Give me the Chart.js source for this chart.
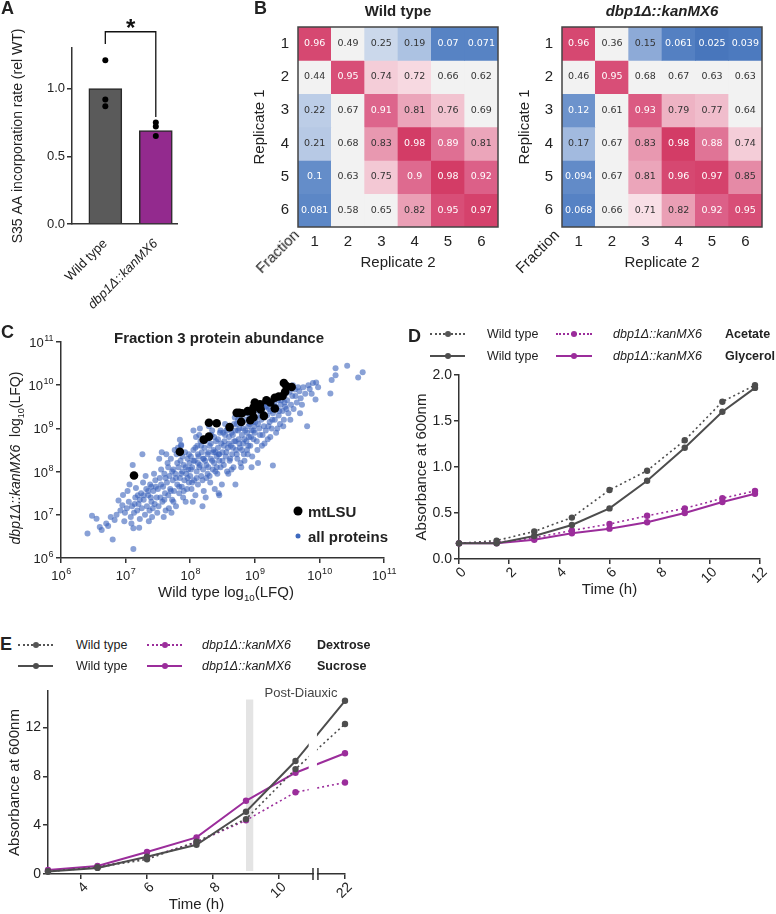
<!DOCTYPE html>
<html>
<head>
<meta charset="utf-8">
<title>dbp1 figure</title>
<script src="https://cdn.jsdelivr.net/npm/chart.js@4.4.1/dist/chart.umd.min.js"></script>
<style>
  body { margin: 0; background: #fff; }
  #page { position: relative; width: 776px; height: 914px; overflow: hidden; background: #fff;
          font-family: "Liberation Sans", Arial, sans-serif; color: #222; }
  #page canvas { position: absolute; }
  .t { position: absolute; white-space: nowrap; line-height: 1; }
  .mid { transform: translate(0, -50%); }
  .ctr { transform: translate(-50%, -50%); }
  .rot { transform: translate(-50%, -50%) rotate(-90deg); }
  .rot45 { transform: translate(-50%, -50%) rotate(-45deg); }
  .letter { font-weight: bold; font-size: 18px; }
  .lg { font-size: 12.5px; }
  .samp { position: absolute; height: 0; border-top-width: 2px; }
  .samp i { position: absolute; left: 50%; top: -1px; width: 6px; height: 6px; border-radius: 50%;
            transform: translate(-50%, -50%); }
  .dot { position: absolute; border-radius: 50%; transform: translate(-50%, -50%); }
  sub { font-size: 65%; line-height: 0; }
</style>
</head>
<body>
<div id="page">
  <canvas id="chartA" width="200" height="320" style="left:0;top:0"></canvas>
  <canvas id="chartB1" width="270" height="290" style="left:240px;top:0"></canvas>
  <canvas id="chartB2" width="272" height="290" style="left:504px;top:0"></canvas>
  <canvas id="chartC" width="400" height="300" style="left:0;top:320px"></canvas>
  <canvas id="chartD" width="380" height="254" style="left:396px;top:360px"></canvas>
  <canvas id="chartE" width="360" height="234" style="left:0;top:680px"></canvas>

  <div class="t letter" style="left:1px;top:-1px">A</div>
  <div class="t letter" style="left:254px;top:-1px">B</div>
  <div class="t letter" style="left:1px;top:323px">C</div>
  <div class="t letter" style="left:408px;top:327px">D</div>
  <div class="t letter" style="left:0;top:635px">E</div>

  <div class="t rot45" style="left:277px;top:251px;font-size:15px">Fraction</div>
  <div class="t rot45" style="left:537px;top:251px;font-size:15px">Fraction</div>

  <div class="t ctr" style="left:219px;top:337px;font-size:15px;font-weight:bold">Fraction 3 protein abundance</div>
  <div class="t rot" style="left:15px;top:458px;font-size:14px"><i>dbp1Δ::kanMX6</i>&nbsp; log<sub>10</sub>(LFQ)</div>
  <div class="t ctr" style="left:226px;top:591px;font-size:15px">Wild type log<sub>10</sub>(LFQ)</div>
  <div class="dot" style="left:298px;top:511px;width:9px;height:9px;background:#000"></div>
  <div class="t mid" style="left:308px;top:511px;font-size:15px;font-weight:bold">mtLSU</div>
  <div class="dot" style="left:298px;top:536px;width:5px;height:5px;background:#3e69be"></div>
  <div class="t mid" style="left:308px;top:536px;font-size:15px;font-weight:bold">all proteins</div>

  <div class="samp" style="left:430px;top:333px;width:35px;border-top-style:dotted;border-color:#555"><i style="background:#555"></i></div>
  <div class="t mid lg" style="left:487px;top:334px">Wild type</div>
  <div class="samp" style="left:556px;top:333px;width:36px;border-top-style:dotted;border-color:#9b2d9b"><i style="background:#9b2d9b"></i></div>
  <div class="t mid lg" style="left:613px;top:334px;font-style:italic">dbp1Δ::kanMX6</div>
  <div class="t mid lg" style="left:725px;top:334px;font-weight:bold">Acetate</div>
  <div class="samp" style="left:430px;top:355px;width:35px;border-top-style:solid;border-color:#4d4d4d"><i style="background:#4d4d4d"></i></div>
  <div class="t mid lg" style="left:487px;top:356px">Wild type</div>
  <div class="samp" style="left:556px;top:355px;width:36px;border-top-style:solid;border-color:#9b2d9b"><i style="background:#9b2d9b"></i></div>
  <div class="t mid lg" style="left:613px;top:356px;font-style:italic">dbp1Δ::kanMX6</div>
  <div class="t mid lg" style="left:725px;top:356px;font-weight:bold">Glycerol</div>

  <div class="samp" style="left:18px;top:644px;width:35px;border-top-style:dotted;border-color:#555"><i style="background:#555"></i></div>
  <div class="t mid lg" style="left:76px;top:645px">Wild type</div>
  <div class="samp" style="left:147px;top:644px;width:35px;border-top-style:dotted;border-color:#9b2d9b"><i style="background:#9b2d9b"></i></div>
  <div class="t mid lg" style="left:202px;top:645px;font-style:italic">dbp1Δ::kanMX6</div>
  <div class="t mid lg" style="left:317px;top:645px;font-weight:bold">Dextrose</div>
  <div class="samp" style="left:18px;top:665px;width:35px;border-top-style:solid;border-color:#4d4d4d"><i style="background:#4d4d4d"></i></div>
  <div class="t mid lg" style="left:76px;top:666px">Wild type</div>
  <div class="samp" style="left:147px;top:665px;width:35px;border-top-style:solid;border-color:#9b2d9b"><i style="background:#9b2d9b"></i></div>
  <div class="t mid lg" style="left:202px;top:666px;font-style:italic">dbp1Δ::kanMX6</div>
  <div class="t mid lg" style="left:317px;top:666px;font-weight:bold">Sucrose</div>
  <div class="t ctr" style="left:301px;top:692px;font-size:13px;color:#444">Post-Diauxic</div>
</div>

<script>
// ---- panel A: S35 incorporation ----
var aGroups = ['Wild type', 'dbp1Δ::kanMX6'];
var aMeans = [1.0, 0.69];
var aWtReps = [1.21, 0.92, 0.87];
var aMutReps = [0.75, 0.72, 0.65];
var aYTicks = [0, 0.5, 1.0];
var aSig = { top: 1.42, left: 1.33, right: 0.79, star: 1.39 };

// ---- panel B: correlation between replicates ----
var bFractions = ['1', '2', '3', '4', '5', '6'];
var wtCorr = [
  [0.96, 0.49, 0.25, 0.19, 0.07, 0.071],
  [0.44, 0.95, 0.74, 0.72, 0.66, 0.62],
  [0.22, 0.67, 0.91, 0.81, 0.76, 0.69],
  [0.21, 0.68, 0.83, 0.98, 0.89, 0.81],
  [0.1, 0.63, 0.75, 0.9, 0.98, 0.92],
  [0.081, 0.58, 0.65, 0.82, 0.95, 0.97]
];
var mutCorr = [
  [0.96, 0.36, 0.15, 0.061, 0.025, 0.039],
  [0.46, 0.95, 0.68, 0.67, 0.63, 0.63],
  [0.12, 0.61, 0.93, 0.79, 0.77, 0.64],
  [0.17, 0.67, 0.83, 0.98, 0.88, 0.74],
  [0.094, 0.67, 0.81, 0.96, 0.97, 0.85],
  [0.068, 0.66, 0.71, 0.82, 0.92, 0.95]
];

// ---- panel C: log10 LFQ, [wild type, dbp1] ----
var cDecades = [6, 7, 8, 9, 10, 11];
var cMtLSU = [[7.13,7.91],[7.84,8.46],[8.21,8.74],[8.29,8.81],[8.29,9.13],[8.41,9.12],[8.61,9.03],[8.72,9.36],
  [8.76,9.36],[8.79,9.15],[8.80,9.35],[8.89,9.40],[8.93,9.19],[8.96,9.38],[8.98,9.48],[8.98,9.26],[9.00,9.60],
  [9.02,9.51],[9.08,9.56],[9.09,9.44],[9.14,9.29],[9.18,9.65],[9.24,9.60],[9.31,9.71],[9.31,9.46],[9.37,9.74],
  [9.43,9.75],[9.45,10.05],[9.47,9.85],[9.49,9.98],[9.57,9.96]];
var cAllProteins = [
  [6.48,6.98],[6.55,6.91],[6.41,6.57],[6.63,6.65],[6.80,6.43],[6.73,6.74],[6.83,6.88],[6.70,6.80],[6.60,6.72],
  [6.89,7.33],[6.96,7.46],[6.92,7.10],[6.98,6.85],[6.86,7.00],[6.95,7.22],[6.77,6.95],[6.99,7.05],
  [7.12,6.21],[7.12,6.69],[7.11,8.15],[7.26,8.40],[7.02,7.15],[7.05,7.30],[7.08,6.95],[7.10,7.20],[7.13,7.05],
  [7.15,7.40],[7.18,7.10],[7.20,7.25],[7.22,6.90],[7.24,7.50],[7.25,7.15],[7.28,7.35],[7.30,7.00],[7.32,7.60],
  [7.33,7.20],[7.35,7.45],[7.37,7.10],[7.38,7.70],[7.40,7.30],[7.41,6.95],[7.43,7.55],[7.45,7.25],[7.46,7.80],
  [7.48,7.40],[7.49,7.05],[7.03,7.55],[7.16,7.62],[7.27,7.75],[7.09,6.80],[7.21,6.70],[7.36,6.85],[7.44,7.95],
  [7.31,7.90],[7.19,7.45],[7.06,7.70],[7.40,7.65],
  [7.50,7.60],[7.51,7.20],[7.53,7.85],[7.54,7.40],[7.55,8.05],[7.57,7.30],[7.58,7.65],[7.60,7.95],[7.61,7.50],
  [7.62,7.10],[7.64,7.75],[7.65,8.20],[7.66,7.45],[7.68,7.90],[7.69,7.60],[7.70,8.30],[7.72,7.35],[7.73,7.80],
  [7.74,8.05],[7.75,7.55],[7.77,7.95],[7.78,7.20],[7.79,8.40],[7.80,7.70],[7.82,8.10],[7.83,7.50],[7.84,7.85],
  [7.85,8.25],[7.87,7.65],[7.88,8.00],[7.89,7.40],[7.90,8.15],[7.91,7.80],[7.92,8.45],[7.94,7.95],[7.95,7.60],
  [7.96,8.30],[7.97,8.05],[7.98,7.75],[7.99,8.20],[7.56,8.45],[7.63,8.40],[7.71,7.05],[7.81,8.55],[7.93,7.30],
  [7.86,8.60],[7.59,6.95],[7.76,8.50],[7.52,8.30],[7.67,7.15],
  [8.00,7.90],[8.01,8.35],[8.02,7.60],[8.03,8.10],[8.05,8.50],[8.06,7.80],[8.07,8.25],[8.08,7.45],[8.10,8.00],
  [8.11,8.60],[8.12,7.70],[8.13,8.35],[8.15,8.15],[8.16,8.70],[8.17,7.90],[8.18,8.45],[8.20,8.05],[8.21,7.55],
  [8.22,8.55],[8.23,8.25],[8.25,7.85],[8.26,8.75],[8.27,8.40],[8.28,8.10],[8.30,8.60],[8.31,7.75],[8.32,8.30],
  [8.33,8.85],[8.35,8.05],[8.36,8.50],[8.37,8.20],[8.38,7.60],[8.40,8.70],[8.41,8.35],[8.42,7.95],[8.43,8.55],
  [8.45,8.25],[8.46,8.90],[8.47,8.10],[8.48,8.65],[8.49,7.70],[8.04,7.30],[8.14,8.85],[8.24,7.40],[8.34,8.95],
  [8.44,7.50],[8.09,8.80],[8.19,7.20],[8.29,9.05],[8.39,8.00],[8.12,8.20],[8.27,7.95],[8.36,8.45],[8.20,8.30],
  [8.44,8.40],
  [8.50,8.45],[8.51,8.90],[8.52,8.15],[8.53,8.70],[8.55,8.35],[8.56,8.95],[8.57,8.00],[8.58,8.55],[8.60,8.80],
  [8.61,8.25],[8.62,9.00],[8.63,8.60],[8.65,8.40],[8.66,8.85],[8.67,8.10],[8.68,8.70],[8.70,8.95],[8.71,8.50],
  [8.72,9.10],[8.73,8.30],[8.75,8.75],[8.76,9.00],[8.77,8.55],[8.78,8.20],[8.80,8.85],[8.81,9.15],[8.82,8.65],
  [8.83,8.40],[8.85,8.95],[8.86,9.20],[8.87,8.70],[8.88,8.50],[8.90,9.05],[8.91,8.80],[8.92,9.25],[8.93,8.60],
  [8.95,8.95],[8.96,8.35],[8.97,9.15],[8.98,8.75],[8.54,9.10],[8.64,8.05],[8.74,9.20],[8.84,8.25],[8.94,9.35],
  [8.59,7.95],[8.69,9.25],[8.79,8.10],[8.89,8.40],[8.99,9.05],
  [9.00,8.90],[9.02,9.25],[9.03,8.70],[9.05,9.10],[9.06,9.40],[9.08,8.85],[9.10,9.20],[9.11,8.60],[9.13,9.35],
  [9.14,9.05],[9.16,9.50],[9.17,8.95],[9.19,9.30],[9.20,8.75],[9.22,9.45],[9.23,9.15],[9.25,9.60],[9.26,9.00],
  [9.28,9.35],[9.28,8.14],[9.30,9.55],[9.31,9.20],[9.33,8.90],[9.34,9.45],[9.36,9.65],[9.37,9.30],[9.39,9.10],
  [9.40,9.55],[9.42,9.75],[9.43,9.40],[9.45,9.20],[9.46,9.60],[9.48,9.80],[9.49,9.45],[9.04,8.50],[9.15,8.65],
  [9.24,8.80],[9.35,9.00],[9.44,9.05],[9.12,9.55],
  [9.50,9.65],[9.52,9.35],[9.54,9.85],[9.56,9.55],[9.58,9.75],[9.60,9.45],[9.62,9.90],[9.63,9.75],[9.65,9.60],
  [9.67,9.95],[9.69,9.86],[9.71,9.70],[9.73,9.55],[9.75,9.95],[9.78,9.80],[9.81,9.05],[9.83,10.00],[9.85,9.91],
  [9.88,9.80],[9.90,10.05],[9.94,9.67],[9.95,10.06],[9.98,9.95],[10.17,9.81],[10.19,10.12],[10.25,10.39],
  [10.25,10.23],[10.43,10.45],[10.60,10.18],[10.67,10.30],[9.55,9.20],[9.70,9.35],[9.59,10.00],
  [7.55,7.70],[7.60,7.35],[7.62,7.85],[7.66,8.10],[7.70,7.55],[7.72,8.00],[7.74,7.30],[7.78,7.85],[7.80,8.20],
  [7.83,7.65],[7.86,7.95],[7.88,8.35],[7.90,7.55],[7.93,8.10],[7.96,7.85],[7.98,8.40],[8.01,8.05],[8.03,7.75],
  [8.05,8.25],[8.08,8.55],[8.10,7.85],[8.12,8.40],[8.14,8.10],[8.17,8.60],[8.19,7.80],[8.21,8.30],[8.23,8.70],
  [8.25,8.15],[8.28,8.45],[8.30,7.90],[8.32,8.65],[8.34,8.25],[8.37,8.80],[8.39,8.45],[8.41,8.10],[8.43,8.75],
  [8.45,8.40],[8.47,8.95],[8.50,8.25],[8.52,8.60],[8.54,8.85],[8.56,8.45],[8.58,9.00],[8.60,8.65],[8.62,8.30],
  [8.64,8.90],[8.66,8.55],[8.68,9.10],[8.70,8.70],[8.72,8.40],[8.74,8.95],[8.76,8.65],[8.78,9.20],[8.80,8.50],
  [8.82,9.00],[8.84,8.75],[8.86,9.35],[8.88,8.90],[8.90,8.60],[8.92,9.10],[8.94,8.80],[8.96,9.30],[8.98,8.95],
  [9.01,9.15],[9.03,9.45],[9.07,9.00],[9.09,9.30],[9.12,8.85],[9.15,9.25],[9.18,9.50],[9.21,9.05],[9.24,9.40],
  [9.27,9.20],[9.32,9.50],[9.38,9.40],[9.41,9.65],[9.47,9.50],[7.35,7.55],[7.42,7.15],[7.47,7.65],[7.28,7.45],
  [7.22,7.35],[7.14,7.25],[7.39,7.40],[7.84,8.74],[7.86,8.62],[8.05,8.95],[8.15,9.00],[8.70,7.70],[8.45,7.45],
  [9.05,8.20],[8.95,8.10]
];

// ---- panel D: growth in acetate / glycerol ----
var dTime = [0, 1.5, 3, 4.5, 6, 7.5, 9, 10.5, 11.8];
var dWtAcetate = [0.17, 0.20, 0.30, 0.45, 0.75, 0.96, 1.29, 1.71, 1.89];
var dWtGlycerol = [0.17, 0.17, 0.25, 0.37, 0.55, 0.85, 1.21, 1.60, 1.86];
var dMutAcetate = [0.17, 0.18, 0.23, 0.31, 0.38, 0.47, 0.55, 0.66, 0.74];
var dMutGlycerol = [0.17, 0.17, 0.21, 0.28, 0.33, 0.40, 0.50, 0.62, 0.71];

// ---- panel E: growth in dextrose / sucrose ----
var eTime = [3, 4.5, 6, 7.5, 9, 10.5, 22];
var eWtDextrose = [0.2, 0.55, 1.2, 2.65, 4.5, 8.6, 12.3];
var eWtSucrose = [0.2, 0.5, 1.42, 2.4, 5.1, 9.26, 14.2];
var eMutDextrose = [0.25, 0.6, 1.35, 2.6, 4.4, 6.7, 7.5];
var eMutSucrose = [0.33, 0.66, 1.8, 3.0, 6.0, 8.3, 9.9];
var eXTicks = [4, 6, 8, 10, 22];
var eYTicks = [0, 4, 8, 12];
var eDiauxic = [9.0, 9.22];

var GRAY = '#4d4d4d', PURPLE = '#9b2d9b', FONT = '"Liberation Sans", Arial, sans-serif';
Chart.defaults.font.family = FONT;
Chart.defaults.color = '#222';
Chart.defaults.animation = false;
Chart.defaults.plugins.legend.display = false;
Chart.defaults.plugins.tooltip.enabled = false;

function fixW(w) { return function (s) { s.width = w; s.paddingTop = 0; s.paddingBottom = 0; }; }
function fixH(h) { return function (s) { s.height = h; s.paddingLeft = 0; s.paddingRight = 0; }; }
function setTicks(vals) { return function (s) { s.ticks = vals.map(function (v) { return { value: v }; }); }; }
var border = { display: true, color: '#333', width: 1.5 };
var tickGrid = { drawOnChartArea: false, color: '#333', tickLength: 5, lineWidth: 1.5 };

// ---------- A ----------
var aBracket = {
  id: 'aBracket',
  afterDraw: function (chart) {
    var x = chart.scales.x, y = chart.scales.y, c = chart.ctx;
    var x1 = x.getPixelForValue(1), x2 = x.getPixelForValue(2), top = y.getPixelForValue(aSig.top);
    c.save();
    c.strokeStyle = '#111'; c.lineWidth = 1.3;
    c.beginPath();
    c.moveTo(x1, y.getPixelForValue(aSig.left)); c.lineTo(x1, top);
    c.lineTo(x2, top); c.lineTo(x2, y.getPixelForValue(aSig.right));
    c.stroke();
    c.fillStyle = '#111'; c.font = 'bold 24px ' + FONT; c.textAlign = 'center';
    c.fillText('*', (x1 + x2) / 2, y.getPixelForValue(aSig.star));
    c.restore();
  }
};
new Chart(document.getElementById('chartA'), {
  type: 'bar',
  data: {
    datasets: [
      { type: 'scatter', order: 0, backgroundColor: '#000', borderWidth: 0, pointRadius: 3,
        data: aWtReps.map(function (v) { return { x: 1, y: v }; })
          .concat(aMutReps.map(function (v) { return { x: 2, y: v }; })) },
      { order: 1, backgroundColor: ['#5a5a5a', '#932a8e'], borderColor: '#2a2a2a', borderWidth: 1.5,
        barThickness: 33, data: aMeans.map(function (v, i) { return { x: i + 1, y: v }; }) }
    ]
  },
  options: {
    responsive: false, devicePixelRatio: 1,
    layout: { padding: { top: 48, right: 23, bottom: 0, left: 0 } },
    scales: {
      x: { type: 'linear', min: 0.34, max: 2.42, offset: false, afterFit: fixH(96),
           afterBuildTicks: setTicks([1, 2]),
           grid: { display: false }, border: border,
           ticks: { autoSkip: false, minRotation: 45, maxRotation: 45, padding: 4, color: '#222',
                    callback: function (v) { return aGroups[v - 1]; },
                    font: function (ctx) { return { family: FONT, size: 13, style: ctx.index === 1 ? 'italic' : 'normal' }; } } },
      y: { min: 0, max: 1.3, afterFit: fixW(72), afterBuildTicks: setTicks(aYTicks),
           grid: tickGrid, border: border,
           ticks: { padding: 2, font: { size: 13 }, callback: function (v) { return v.toFixed(1); } },
           title: { display: true, text: 'S35 AA incorporation rate (rel WT)', font: { size: 14 }, padding: { top: 10 } } }
    }
  },
  plugins: [aBracket]
});

// ---------- B ----------
var heatStops = [
  [0.00, [63, 111, 184]], [0.07, [87, 131, 196]], [0.12, [109, 147, 204]], [0.17, [162, 186, 223]],
  [0.25, [203, 216, 235]], [0.33, [242, 242, 242]], [0.69, [242, 242, 242]], [0.71, [248, 223, 230]],
  [0.74, [244, 205, 216]], [0.79, [238, 179, 196]], [0.83, [232, 152, 176]], [0.88, [224, 116, 150]],
  [0.92, [220, 96, 136]], [0.98, [211, 60, 102]], [1.00, [209, 56, 99]]
];
function heatColor(v) {
  for (var i = 1; i < heatStops.length; i++) {
    if (v <= heatStops[i][0]) {
      var a = heatStops[i - 1], b = heatStops[i], f = (v - a[0]) / (b[0] - a[0]);
      var c = a[1].map(function (ch, k) { return Math.round(ch + (b[1][k] - ch) * f); });
      return 'rgb(' + c.join(',') + ')';
    }
  }
  return 'rgb(209,56,99)';
}
var cellText = {
  id: 'cellText',
  afterDatasetsDraw: function (chart) {
    var c = chart.ctx, a = chart.chartArea;
    c.save();
    c.font = '9.5px "DejaVu Sans", sans-serif'; c.textAlign = 'center'; c.textBaseline = 'middle';
    chart.data.datasets.forEach(function (ds, di) {
      chart.getDatasetMeta(di).data.forEach(function (bar, ci) {
        var v = ds.values[ci];
        c.fillStyle = (v < 0.13 || v > 0.86) ? '#fff' : '#333';
        c.fillText(String(v), bar.x, (bar.y + bar.base) / 2);
      });
    });
    c.strokeStyle = '#444'; c.lineWidth = 1.5;
    c.strokeRect(a.left, a.top, a.right - a.left, a.bottom - a.top);
    c.restore();
  }
};
function heatmap(id, rows, title, italic, padRight, yTitlePad) {
  new Chart(document.getElementById(id), {
    type: 'bar',
    data: {
      labels: bFractions,
      datasets: rows.map(function (row, r) {
        return { data: row.map(function () { return [r + 0.5, r + 1.5]; }), values: row,
                 backgroundColor: row.map(heatColor), borderWidth: 0, grouped: false,
                 barPercentage: 1, categoryPercentage: 1 };
      })
    },
    options: {
      responsive: false, devicePixelRatio: 1,
      layout: { padding: { top: 0, right: padRight, bottom: 0, left: 0 } },
      plugins: { title: { display: true, text: title, fullSize: false, padding: { top: 3, bottom: 6 },
                          color: '#222', font: { size: 15, weight: 'bold', style: italic ? 'italic' : 'normal' } } },
      scales: {
        x: { afterFit: fixH(63), grid: { display: false, drawTicks: false }, border: { display: false },
             ticks: { padding: 6, font: { size: 15 } },
             title: { display: true, text: 'Replicate 2', font: { size: 15 }, padding: { bottom: 18 } } },
        y: { type: 'linear', min: 0.5, max: 6.5, reverse: true, afterFit: fixW(58),
             afterBuildTicks: setTicks([1, 2, 3, 4, 5, 6]),
             grid: { display: false, drawTicks: false }, border: { display: false },
             ticks: { padding: 9, font: { size: 15 } },
             title: { display: true, text: 'Replicate 1', font: { size: 15 }, padding: { top: yTitlePad } } }
      }
    },
    plugins: [cellText]
  });
}
heatmap('chartB1', wtCorr, 'Wild type', false, 12, 11);
heatmap('chartB2', mutCorr, 'dbp1Δ::kanMX6', true, 14, 12);

// ---------- C ----------
// decade tick labels drawn as 10 with a raised exponent, at the scales' own tick positions
function drawPow(c, d, x, baseY, align) {
  c.font = '13px ' + FONT; var w1 = c.measureText('10').width;
  c.font = '9px ' + FONT; var w2 = c.measureText(String(d)).width;
  var left = align === 'center' ? x - (w1 + w2) / 2 : x - (w1 + w2);
  c.textAlign = 'left'; c.textBaseline = 'alphabetic';
  c.font = '13px ' + FONT; c.fillText('10', left, baseY);
  c.font = '9px ' + FONT; c.fillText(String(d), left + w1 + 0.5, baseY - 6);
}
var powTicks = {
  id: 'powTicks',
  afterDraw: function (chart) {
    var c = chart.ctx, xs = chart.scales.x, ys = chart.scales.y;
    c.save(); c.fillStyle = '#222';
    cDecades.forEach(function (d) {
      drawPow(c, d, xs.getPixelForValue(d), xs.top + 22, 'center');
      drawPow(c, d, ys.right - 8, ys.getPixelForValue(d) + 5, 'right');
    });
    c.restore();
  }
};
function toXY(p) { return { x: p[0], y: p[1] }; }
new Chart(document.getElementById('chartC'), {
  type: 'scatter',
  data: {
    datasets: [
      { data: cMtLSU.map(toXY), backgroundColor: '#000', borderWidth: 0, pointRadius: 4.3 },
      { data: cAllProteins.map(toXY), backgroundColor: 'rgba(58,98,186,0.6)', borderWidth: 0, pointRadius: 3 }
    ]
  },
  options: {
    responsive: false, devicePixelRatio: 1,
    layout: { padding: { top: 22, right: 16, bottom: 0, left: 0 } },
    scales: {
      x: { min: 6, max: 11, afterFit: fixH(62), afterBuildTicks: setTicks(cDecades),
           grid: tickGrid, border: border, ticks: { display: false } },
      y: { min: 6, max: 11, afterFit: fixW(61), afterBuildTicks: setTicks(cDecades),
           grid: tickGrid, border: border, ticks: { display: false } }
    }
  },
  plugins: [powTicks]
});

// ---------- D ----------
function series(xs, ys, color, dotted) {
  return { data: xs.map(function (x, i) { return { x: x, y: ys[i] }; }), borderColor: color,
           backgroundColor: color, pointBackgroundColor: color, pointBorderWidth: 0, pointRadius: 3.2,
           borderWidth: dotted ? 1.6 : 2, borderDash: dotted ? [2, 3] : [], tension: 0, clip: false };
}
new Chart(document.getElementById('chartD'), {
  type: 'line',
  data: {
    datasets: [
      series(dTime, dWtAcetate, GRAY, true),
      series(dTime, dWtGlycerol, GRAY, false),
      series(dTime, dMutAcetate, PURPLE, true),
      series(dTime, dMutGlycerol, PURPLE, false)
    ]
  },
  options: {
    responsive: false, devicePixelRatio: 1,
    layout: { padding: { top: 15, right: 16, bottom: 0, left: 0 } },
    scales: {
      x: { type: 'linear', min: 0, max: 12, afterFit: fixH(55), grid: tickGrid, border: border,
           ticks: { stepSize: 2, minRotation: 45, maxRotation: 45, padding: 0, labelOffset: 5, font: { size: 14 } },
           title: { display: true, text: 'Time (h)', font: { size: 15 }, padding: { bottom: 15 } } },
      y: { min: 0, max: 2, afterFit: fixW(63), grid: tickGrid, border: border,
           ticks: { stepSize: 0.5, padding: 2, font: { size: 14 }, callback: function (v) { return v.toFixed(1); } },
           title: { display: true, text: 'Absorbance at 600nm', font: { size: 15 }, padding: { top: 17 } } }
    }
  }
});

// ---------- E ----------
// broken time axis: hours after 11 are compressed so 22 h sits one unit right of 11
function brk(t) { return t <= 11 ? t : t - 10; }
function unbrk(v) { return v <= 11 ? v : v + 10; }
var eMarks = {
  id: 'eMarks',
  beforeDatasetsDraw: function (chart) {
    var x = chart.scales.x, y = chart.scales.y, c = chart.ctx;
    var l = x.getPixelForValue(eDiauxic[0]), r = x.getPixelForValue(eDiauxic[1]);
    var t = y.getPixelForValue(14.3), b = y.getPixelForValue(0.25);
    c.save(); c.fillStyle = '#e4e4e4'; c.fillRect(l, t, r - l, b - t); c.restore();
  },
  afterDatasetsDraw: function (chart) {
    var x = chart.scales.x, a = chart.chartArea, c = chart.ctx;
    var l = x.getPixelForValue(10.9), r = x.getPixelForValue(11.15);
    c.save(); c.fillStyle = '#fff'; c.fillRect(l, a.top, r - l, a.bottom - a.top - 3); c.restore();
  },
  afterDraw: function (chart) {
    var x = chart.scales.x, c = chart.ctx, yb = chart.chartArea.bottom;
    var l = x.getPixelForValue(11.03), r = x.getPixelForValue(11.18);
    c.save();
    c.fillStyle = '#fff'; c.fillRect(l + 1, yb - 2, r - l - 2, 4);
    c.strokeStyle = '#333'; c.lineWidth = 1.5;
    c.beginPath(); c.moveTo(l, yb - 6); c.lineTo(l, yb + 6); c.moveTo(r, yb - 6); c.lineTo(r, yb + 6); c.stroke();
    c.restore();
  }
};
var eX = eTime.map(brk);
new Chart(document.getElementById('chartE'), {
  type: 'line',
  data: {
    datasets: [
      series(eX, eWtDextrose, GRAY, true),
      series(eX, eWtSucrose, GRAY, false),
      series(eX, eMutDextrose, PURPLE, true),
      series(eX, eMutSucrose, PURPLE, false)
    ]
  },
  options: {
    responsive: false, devicePixelRatio: 1,
    layout: { padding: { top: 11, right: 15, bottom: 0, left: 0 } },
    scales: {
      x: { type: 'linear', min: 3, max: brk(22), afterFit: fixH(40), afterBuildTicks: setTicks(eXTicks.map(brk)),
           grid: tickGrid, border: border,
           ticks: { minRotation: 45, maxRotation: 45, padding: 0, labelOffset: 5, font: { size: 14 },
                    callback: function (v) { return String(unbrk(v)); } },
           title: { display: true, text: 'Time (h)', font: { size: 15 }, padding: { top: 0, bottom: 0 } } },
      y: { min: 0, max: 15, afterFit: fixW(48), afterBuildTicks: setTicks(eYTicks),
           grid: tickGrid, border: border,
           ticks: { padding: 2, font: { size: 14 } },
           title: { display: true, text: 'Absorbance at 600nm', font: { size: 15 }, padding: { top: 6 } } }
    }
  },
  plugins: [eMarks]
});
</script>
</body>
</html>
